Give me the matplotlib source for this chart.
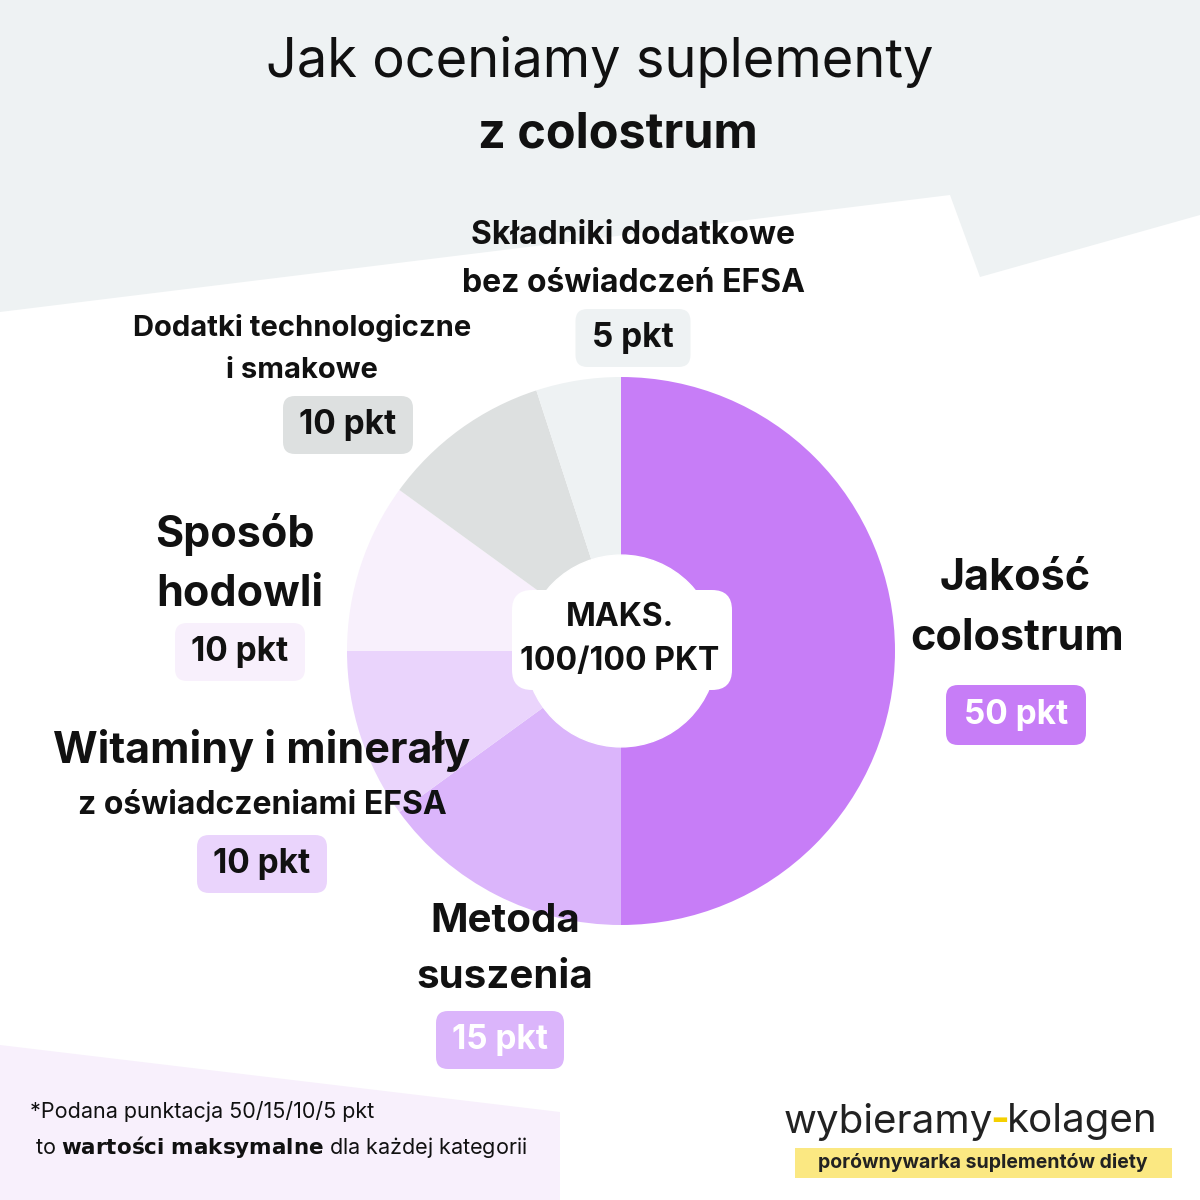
import matplotlib
matplotlib.use("Agg")
import matplotlib.pyplot as plt
from matplotlib.patches import Polygon, FancyBboxPatch, Circle

plt.rcParams['font.family'] = ['Inter', 'DejaVu Sans']

categories = ["Jakość colostrum", "Metoda suszenia", "Witaminy i minerały", "Sposób hodowli",
              "Dodatki technologiczne", "Składniki dodatkowe"]
values = [50, 15, 10, 10, 10, 5]
colors = ["#c77df7", "#dbb5fb", "#ead4fc", "#f8f0fc", "#dde0e0", "#eef2f3"]

fig = plt.figure(figsize=(12, 12), dpi=100, facecolor='white')
cx, cy, r = 621, 651, 274
ax = fig.add_axes([(cx - r)/1200, (1200 - cy - r)/1200, 2*r/1200, 2*r/1200])
ax.pie(values, colors=colors, startangle=90, counterclock=False, radius=1,
       wedgeprops=dict(linewidth=0))
ax.add_patch(Circle((0, 0), 0.35, color='white', zorder=5))
ax.set_xlim(-1, 1); ax.set_ylim(-1, 1); ax.set_aspect('equal'); ax.axis('off')
ax.set_zorder(0)

bg = fig.add_axes([0, 0, 1, 1])
bg.set_zorder(1); bg.patch.set_alpha(0)
bg.set_xlim(0, 1200); bg.set_ylim(1200, 0); bg.axis('off')
bg.add_patch(Polygon([(0, 0), (1200, 0), (1200, 215), (980, 277), (950, 195), (0, 312)], color="#eef2f3", lw=0))
bg.add_patch(Polygon([(0, 1045), (560, 1112), (560, 1200), (0, 1200)], color="#f8f0fc", lw=0))

bg.text(600, 62, "Jak oceniamy suplementy", ha='center', va='center', fontsize=39, color="#111")
bg.text(618, 135, "z colostrum", ha='center', va='center', fontsize=35, fontweight='bold', color="#111")

def pill(x, y, w, h, text, fc, tc, fs=24):
    bg.add_patch(FancyBboxPatch((x - w/2, y - h/2), w, h, boxstyle="round,pad=0,rounding_size=12",
                                fc=fc, ec='none'))
    bg.text(x, y, text, ha='center', va='center', fontsize=fs, fontweight='bold', color=tc)

bg.add_patch(FancyBboxPatch((512, 590), 220, 100, boxstyle="round,pad=0,rounding_size=20", fc='white', ec='none', zorder=6))
bg.text(620, 617, "MAKS.", ha='center', va='center', fontsize=23, fontweight='bold', color="#111", zorder=7)
bg.text(620, 662, "100/100 PKT", ha='center', va='center', fontsize=23, fontweight='bold', color="#111", zorder=7)

bg.text(633, 235, "Składniki dodatkowe", ha='center', va='center', fontsize=23, fontweight='bold', color="#111")
bg.text(633, 283, "bez oświadczeń EFSA", ha='center', va='center', fontsize=23, fontweight='bold', color="#111")
pill(633, 338, 115, 58, "5 pkt", "#eef2f3", "#111")

bg.text(302, 328, "Dodatki technologiczne", ha='center', va='center', fontsize=21, fontweight='bold', color="#111")
bg.text(302, 370, "i smakowe", ha='center', va='center', fontsize=21, fontweight='bold', color="#111")
pill(348, 425, 130, 58, "10 pkt", "#dde0e0", "#111")

bg.text(235, 535, "Sposób", ha='center', va='center', fontsize=31, fontweight='bold', color="#111")
bg.text(240, 594, "hodowli", ha='center', va='center', fontsize=31, fontweight='bold', color="#111")
pill(240, 652, 130, 58, "10 pkt", "#f8f0fc", "#111")

bg.text(262, 750, "Witaminy i minerały", ha='center', va='center', fontsize=31, fontweight='bold', color="#111")
bg.text(262, 806, "z oświadczeniami EFSA", ha='center', va='center', fontsize=23, fontweight='bold', color="#111")
pill(262, 864, 130, 58, "10 pkt", "#ead4fc", "#111")

bg.text(505, 922, "Metoda", ha='center', va='center', fontsize=29, fontweight='bold', color="#111")
bg.text(505, 978, "suszenia", ha='center', va='center', fontsize=29, fontweight='bold', color="#111")
pill(500, 1040, 128, 58, "15 pkt", "#dbb5fb", "white")

bg.text(1015, 578, "Jakość", ha='center', va='center', fontsize=31, fontweight='bold', color="#111")
bg.text(1017, 638, "colostrum", ha='center', va='center', fontsize=31, fontweight='bold', color="#111")
pill(1016, 715, 140, 60, "50 pkt", "#c77df7", "white")

bg.text(30, 1112, "*Podana punktacja 50/15/10/5 pkt", ha='left', va='center', fontsize=15.5, color="#111")
bg.text(35, 1147, "to $\\bf{wartości\\ maksymalne}$ dla każdej kategorii", ha='left', va='center', fontsize=15.5, color="#111")

bg.text(993, 1122, "wybieramy", ha='right', va='center', fontsize=29, color="#222")
bg.text(1000, 1122, "-", ha='center', va='center', fontsize=29, fontweight='bold', color="#f5d000")
bg.text(1007, 1122, "kolagen", ha='left', va='center', fontsize=29, color="#222")
bg.add_patch(Polygon([(795, 1148), (1172, 1148), (1172, 1178), (795, 1178)], color="#fbe882", lw=0))
bg.text(983, 1163, "porównywarka suplementów diety", ha='center', va='center', fontsize=14, fontweight='bold', color="#222")

fig.savefig("out.png", dpi=100, facecolor='white')
